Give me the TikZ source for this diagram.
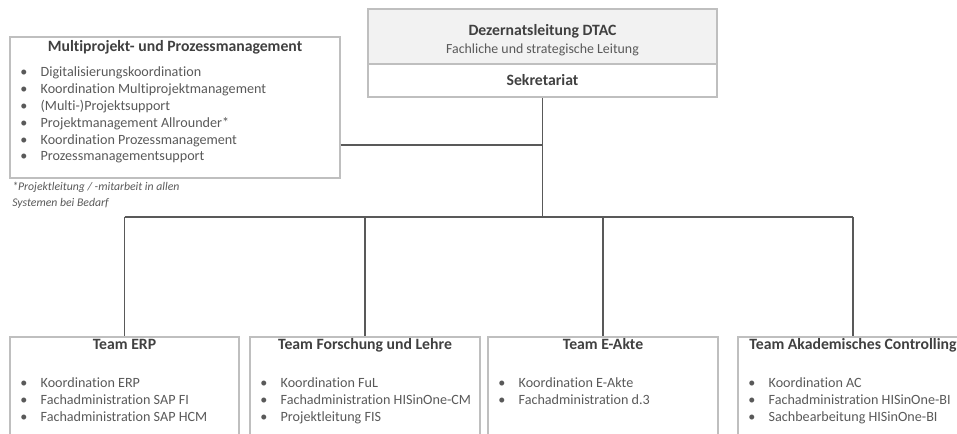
\documentclass[tikz,border=0pt]{standalone}
\usepackage{fontspec}
\setmainfont[Ligatures=NoCommon]{Carlito}
\usetikzlibrary{fit}
\definecolor{boxline}{HTML}{BFBFBF}
\definecolor{connc}{HTML}{595959}
\definecolor{titlec}{HTML}{404040}
\definecolor{bodyc}{HTML}{595959}
\definecolor{headfill}{HTML}{F2F2F2}
\newcommand\blt{\makebox[13.8pt][l]{\hspace{-1.5pt}•}}
\begin{document}
\begin{tikzpicture}[x=0.75pt,y=-0.75pt,
  box/.style={draw=boxline, line width=1.1pt, rectangle, inner sep=0pt},
  ttl/.style={font=\bfseries\fontsize{11.8}{13}\selectfont, text=titlec, inner sep=0pt, anchor=base},
  sub/.style={font=\fontsize{10.4}{12}\selectfont, text=bodyc, inner sep=0pt, anchor=base},
  lst/.style={font=\fontsize{10.6}{12.6}\selectfont, text=bodyc, inner sep=0pt, anchor=base west},
  note/.style={font=\itshape\fontsize{8.8}{12}\selectfont, text=bodyc, inner sep=0pt, anchor=base west},
  conn/.style={draw=connc, line width=1.1pt}]
\useasboundingbox (0,0) rectangle (957,434);
% boxes
\node[box, fill=headfill, fit={(368,9) (717,64)}] (dez) {};
\node[box, fit={(368,64) (717,97)}] (sek) {};
\node[box, fit={(10,37) (340,178)}] (multi) {};
\node[box, fit={(10,337) (239,460)}] (erp) {};
\node[box, fit={(250,337) (480,460)}] (ful) {};
\node[box, fit={(488,337) (718,460)}] (eak) {};
\node[box, fit={(738,337) (968,460)}] (ac) {};
% connectors
\coordinate (mj) at (sek.south |- 0,145);
\coordinate (bus) at (sek.south |- 0,217);
\draw[conn] (sek.south) -- (bus);
\draw[conn] (multi.east |- mj) -- (mj);
\draw[conn] (erp.north |- bus) -- (ac.north |- bus);
\draw[conn] (erp.north |- bus) -- (erp.north);
\draw[conn] (ful.north |- bus) -- (ful.north);
\draw[conn] (eak.north |- bus) -- (eak.north);
\draw[conn] (ac.north |- bus) -- (ac.north);
% top texts
\node[ttl] (dezt) at (dez.north |- 0,36) {Dezernatsleitung DTAC};
\node[sub] (dezs) at (dez.north |- 0,54) {Fachliche und strategische Leitung};
\node[ttl] (sekt) at (sek.north |- 0,86) {Sekretariat};
% multi
\node[ttl] (multit) at (multi.north |- 0,52) {Multiprojekt- und Prozessmanagement};
\node[lst] (multil) at (22,77) {\begin{tabular}[t]{@{}l@{}}
\blt Digitalisierungskoordination\\
\blt Koordination Multiprojektmanagement\\
\blt (Multi-)Projektsupport\\
\blt Projektmanagement Allrounder*\\
\blt Koordination Prozessmanagement\\
\blt Prozessmanagementsupport
\end{tabular}};
\node[note] (note1) at (12,191) {*Projektleitung / -mitarbeit in allen};
\node[note] (note2) at (12,207) {Systemen bei Bedarf};
% teams
\node[ttl] (erpt) at (erp.north |- 0,350) {Team ERP};
\node[lst] (erpl) at (22,387.5) {\begin{tabular}[t]{@{}l@{}}
\blt Koordination ERP\\
\blt Fachadministration SAP FI\\
\blt Fachadministration SAP HCM
\end{tabular}};
\node[ttl] (fult) at (ful.north |- 0,350) {Team Forschung und Lehre};
\node[lst] (full) at (262,387.5) {\begin{tabular}[t]{@{}l@{}}
\blt Koordination FuL\\
\blt Fachadministration HISinOne-CM\\
\blt Projektleitung FIS
\end{tabular}};
\node[ttl] (eakt) at (eak.north |- 0,350) {Team E-Akte};
\node[lst] (eakl) at (500,387.5) {\begin{tabular}[t]{@{}l@{}}
\blt Koordination E-Akte\\
\blt Fachadministration d.3
\end{tabular}};
\node[ttl] (act) at (ac.north |- 0,350) {Team Akademisches Controlling};
\node[lst] (acl) at (750,387.5) {\begin{tabular}[t]{@{}l@{}}
\blt Koordination AC\\
\blt Fachadministration HISinOne-BI\\
\blt Sachbearbeitung HISinOne-BI
\end{tabular}};
\end{tikzpicture}
\end{document}
